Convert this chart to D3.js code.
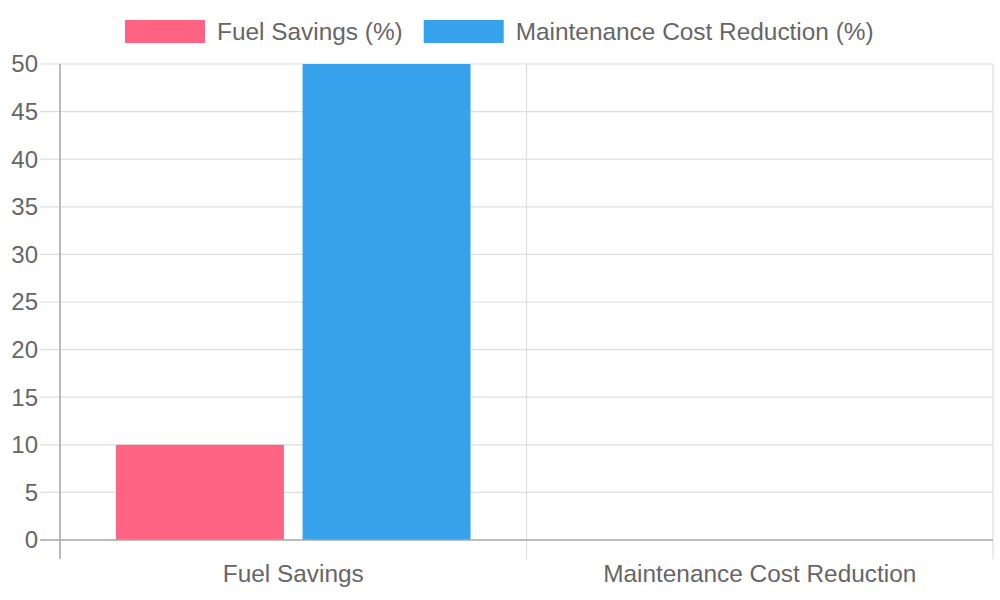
<!DOCTYPE html>
<html>
<head>
<meta charset="utf-8">
<script src="https://cdn.jsdelivr.net/npm/d3@7"></script>
<style>
  body { margin: 0; background: #fff; }
  text { font-family: "Liberation Sans", Arial, Helvetica, sans-serif; fill: #666; }
</style>
</head>
<body>
<div class="chart"></div>
<script>
// data
const categories = ["Fuel Savings", "Maintenance Cost Reduction"];
const seriesNames = ["Fuel Savings (%)", "Maintenance Cost Reduction (%)"];
const fuelSavings = [10, null];
const maintenanceReduction = [50, null];
const yTicks = [0, 5, 10, 15, 20, 25, 30, 35, 40, 45, 50];
const colors = ["#FF6384", "#36A2EB"];

const series = [fuelSavings, maintenanceReduction];

const margin = { top: 64, right: 7, bottom: 60, left: 60 };
const width = 1000 - margin.left - margin.right;
const height = 600 - margin.top - margin.bottom;

const svg = d3.select(".chart")
  .append("svg")
  .attr("width", 1000)
  .attr("height", 600);

const g = svg.append("g")
  .attr("transform", "translate(" + margin.left + "," + margin.top + ")");

const xScale = d3.scaleBand()
  .domain(categories)
  .range([0, width]);

const yScale = d3.scaleLinear()
  .domain([0, 50])
  .range([height, 0]);

// grouped bars: categoryPercentage 0.8, barPercentage 0.9
const groupWidth = xScale.bandwidth() * 0.8;
const xSub = d3.scaleBand()
  .domain(d3.range(series.length))
  .range([(xScale.bandwidth() - groupWidth) / 2, (xScale.bandwidth() + groupWidth) / 2])
  .paddingInner(0.1)
  .paddingOuter(0.05);

// horizontal grid
g.append("g")
  .selectAll("line")
  .data(yTicks)
  .join("line")
  .attr("x1", -20)
  .attr("x2", width)
  .attr("y1", d => yScale(d))
  .attr("y2", d => yScale(d))
  .attr("stroke", "#dedede")
  .attr("stroke-width", 1.2);

// vertical grid at category edges
const xEdges = [0, ...categories.map(c => xScale(c) + xScale.bandwidth())];
g.append("g")
  .selectAll("line")
  .data(xEdges)
  .join("line")
  .attr("x1", d => d)
  .attr("x2", d => d)
  .attr("y1", 0)
  .attr("y2", height + 19)
  .attr("stroke", "#dedede")
  .attr("stroke-width", 1.2);

// bars
series.forEach((values, si) => {
  g.append("g")
    .selectAll("rect")
    .data(categories.map((c, i) => ({ c, v: values[i] })).filter(d => d.v != null))
    .join("rect")
    .attr("x", d => xScale(d.c) + xSub(si))
    .attr("width", xSub.bandwidth())
    .attr("y", d => yScale(d.v))
    .attr("height", d => yScale(0) - yScale(d.v))
    .attr("fill", colors[si]);
});

// axis lines
g.append("line")
  .attr("x1", 0).attr("x2", 0)
  .attr("y1", 0).attr("y2", height + 19)
  .attr("stroke", "#aaa").attr("stroke-width", 1.5);

g.append("line")
  .attr("x1", -20).attr("x2", width)
  .attr("y1", height).attr("y2", height)
  .attr("stroke", "#aaa").attr("stroke-width", 1.5);

// y tick labels
g.append("g")
  .selectAll("text")
  .data(yTicks)
  .join("text")
  .attr("x", -22)
  .attr("y", d => yScale(d))
  .attr("dy", "0.35em")
  .attr("text-anchor", "end")
  .style("font-size", "24px")
  .text(d => d);

// x tick labels
g.append("g")
  .selectAll("text")
  .data(categories)
  .join("text")
  .attr("x", d => xScale(d) + xScale.bandwidth() / 2)
  .attr("y", height + 42)
  .attr("text-anchor", "middle")
  .style("font-size", "24.4px")
  .text(d => d);

// legend
const legend = svg.append("g");
let lx = 125;
seriesNames.forEach((name, i) => {
  legend.append("rect")
    .attr("x", lx)
    .attr("y", 20)
    .attr("width", 80)
    .attr("height", 23)
    .attr("fill", colors[i]);
  const t = legend.append("text")
    .attr("x", lx + 92)
    .attr("y", 40)
    .style("font-size", "24.4px")
    .text(name);
  lx += 92 + t.node().getComputedTextLength() + 21;
});
</script>
</body>
</html>
